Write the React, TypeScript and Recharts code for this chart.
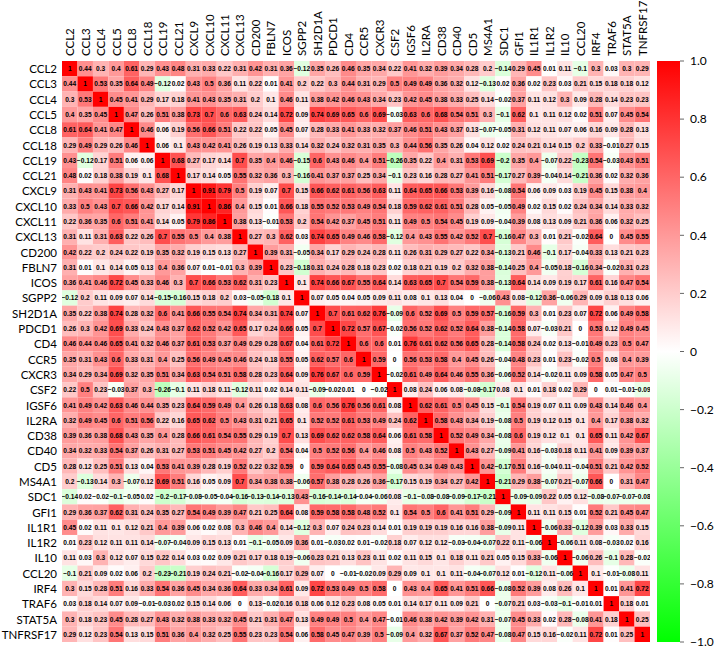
import { ScatterChart, Scatter, XAxis, YAxis, BarChart, Bar } from 'recharts'

const genes = [
  'CCL2', 'CCL3', 'CCL4', 'CCL5', 'CCL8', 'CCL18', 'CCL19', 'CCL21', 'CXCL9', 'CXCL10',
  'CXCL11', 'CXCL13', 'CD200', 'FBLN7', 'ICOS', 'SGPP2', 'SH2D1A', 'PDCD1', 'CD4', 'CCR5',
  'CXCR3', 'CSF2', 'IGSF6', 'IL2RA', 'CD38', 'CD40', 'CD5', 'MS4A1', 'SDC1', 'GFI1',
  'IL1R1', 'IL1R2', 'IL10', 'CCL20', 'IRF4', 'TRAF6', 'STAT5A', 'TNFRSF17',
]

// lower triangle of the correlation matrix, one row per gene
const rCCL2: number[] = []
const rCCL3 = [0.44]
const rCCL4 = [0.3, 0.53]
const rCCL5 = [0.4, 0.35, 0.45]
const rCCL8 = [0.61, 0.64, 0.41, 0.47]
const rCCL18 = [0.29, 0.49, 0.29, 0.26, 0.46]
const rCCL19 = [0.43, -0.12, 0.17, 0.51, 0.06, 0.06]
const rCCL21 = [0.48, 0.02, 0.18, 0.38, 0.19, 0.1, 0.68]
const rCXCL9 = [0.31, 0.43, 0.41, 0.73, 0.56, 0.43, 0.27, 0.17]
const rCXCL10 = [0.33, 0.5, 0.43, 0.7, 0.66, 0.42, 0.17, 0.14, 0.91]
const rCXCL11 = [0.22, 0.36, 0.35, 0.6, 0.51, 0.41, 0.14, 0.05, 0.79, 0.86]
const rCXCL13 = [0.31, 0.11, 0.31, 0.63, 0.22, 0.26, 0.7, 0.55, 0.5, 0.4, 0.38]
const rCD200 = [0.42, 0.22, 0.2, 0.24, 0.22, 0.19, 0.35, 0.32, 0.19, 0.15, 0.13, 0.27]
const rFBLN7 = [0.31, 0.01, 0.1, 0.14, 0.05, 0.13, 0.4, 0.36, 0.07, 0.01, -0.01, 0.3, 0.39]
const rICOS = [0.36, 0.41, 0.46, 0.72, 0.45, 0.33, 0.46, 0.3, 0.7, 0.66, 0.53, 0.62, 0.31, 0.23]
const rSGPP2 = [-0.12, 0.2, 0.11, 0.09, 0.07, 0.14, -0.15, -0.16, 0.15, 0.18, 0.2, 0.03, -0.05, -0.18, 0.1]
const rSH2D1A = [0.35, 0.22, 0.38, 0.74, 0.28, 0.32, 0.6, 0.41, 0.66, 0.55, 0.54, 0.74, 0.34, 0.31, 0.74, 0.07]
const rPDCD1 = [0.26, 0.3, 0.42, 0.69, 0.33, 0.24, 0.43, 0.37, 0.62, 0.52, 0.42, 0.65, 0.17, 0.24, 0.66, 0.05, 0.7]
const rCD4 = [0.46, 0.44, 0.46, 0.65, 0.41, 0.32, 0.46, 0.37, 0.61, 0.53, 0.37, 0.49, 0.29, 0.28, 0.67, 0.04, 0.61, 0.72]
const rCCR5 = [0.35, 0.31, 0.43, 0.6, 0.33, 0.31, 0.4, 0.25, 0.56, 0.49, 0.45, 0.46, 0.24, 0.18, 0.55, 0.05, 0.62, 0.57, 0.6]
const rCXCR3 = [0.34, 0.29, 0.34, 0.69, 0.32, 0.35, 0.51, 0.34, 0.63, 0.54, 0.51, 0.58, 0.28, 0.23, 0.64, 0.09, 0.76, 0.67, 0.6, 0.59]
const rCSF2 = [0.22, 0.5, 0.23, -0.03, 0.37, 0.3, -0.26, -0.1, 0.11, 0.18, 0.11, -0.12, 0.11, 0.02, 0.14, 0.11, -0.09, -0.02, 0.01, 0, -0.02]
const rIGSF6 = [0.41, 0.49, 0.42, 0.63, 0.46, 0.44, 0.35, 0.23, 0.64, 0.59, 0.49, 0.4, 0.26, 0.18, 0.63, 0.08, 0.6, 0.56, 0.76, 0.56, 0.61, 0.08]
const rIL2RA = [0.32, 0.49, 0.45, 0.6, 0.51, 0.56, 0.22, 0.16, 0.65, 0.62, 0.5, 0.43, 0.31, 0.21, 0.65, 0.1, 0.52, 0.52, 0.61, 0.53, 0.49, 0.24, 0.62]
const rCD38 = [0.39, 0.36, 0.38, 0.68, 0.43, 0.35, 0.4, 0.28, 0.66, 0.61, 0.54, 0.55, 0.29, 0.19, 0.7, 0.13, 0.69, 0.62, 0.62, 0.58, 0.64, 0.06, 0.61, 0.58]
const rCD40 = [0.34, 0.32, 0.33, 0.54, 0.37, 0.26, 0.31, 0.27, 0.53, 0.51, 0.45, 0.42, 0.27, 0.2, 0.54, 0.04, 0.5, 0.52, 0.56, 0.4, 0.46, 0.08, 0.5, 0.43, 0.52]
const rCD5 = [0.28, 0.12, 0.25, 0.51, 0.13, 0.04, 0.53, 0.41, 0.39, 0.28, 0.19, 0.52, 0.22, 0.32, 0.59, 0, 0.59, 0.64, 0.65, 0.45, 0.55, -0.08, 0.45, 0.34, 0.49, 0.43]
const rMS4A1 = [0.2, -0.13, 0.14, 0.3, -0.07, 0.12, 0.69, 0.51, 0.16, 0.05, 0.09, 0.7, 0.34, 0.38, 0.38, -0.06, 0.57, 0.38, 0.28, 0.26, 0.36, -0.17, 0.15, 0.19, 0.34, 0.27, 0.42]
const rSDC1 = [-0.14, 0.02, -0.02, -0.1, -0.05, 0.02, -0.2, -0.17, -0.08, -0.05, -0.04, -0.16, -0.13, -0.14, -0.13, 0.43, -0.16, -0.14, -0.14, -0.04, -0.06, 0.08, -0.1, -0.08, -0.08, -0.09, -0.17, -0.21]
const rGFI1 = [0.29, 0.36, 0.37, 0.62, 0.31, 0.24, 0.35, 0.27, 0.54, 0.49, 0.39, 0.47, 0.21, 0.25, 0.64, 0.08, 0.59, 0.58, 0.58, 0.48, 0.52, 0.1, 0.54, 0.5, 0.6, 0.41, 0.51, 0.29, -0.09]
const rIL1R1 = [0.45, 0.02, 0.11, 0.1, 0.12, 0.21, 0.4, 0.39, 0.06, 0.02, 0.08, 0.3, 0.46, 0.4, 0.14, -0.12, 0.3, 0.07, 0.24, 0.23, 0.14, 0.01, 0.19, 0.19, 0.19, 0.16, 0.16, 0.38, -0.09, 0.11]
const rIL1R2 = [0.01, 0.23, 0.12, 0.11, 0.11, 0.14, -0.07, -0.04, 0.09, 0.15, 0.13, 0.01, -0.1, -0.05, 0.09, 0.36, 0.01, -0.03, 0.02, 0.01, -0.02, 0.18, 0.07, 0.12, 0.12, -0.03, -0.04, -0.07, 0.22, 0.11, -0.06]
const rIL10 = [0.11, 0.03, 0.3, 0.12, 0.07, 0.15, 0.22, 0.14, 0.03, 0.02, 0.09, 0.21, 0.17, 0.18, 0.19, -0.06, 0.23, 0.21, 0.13, 0.23, 0.11, 0.02, 0.11, 0.15, 0.1, 0.18, 0.11, 0.21, 0.05, 0.15, 0.33, -0.06]
const rCCL20 = [-0.1, 0.21, 0.09, 0.02, 0.06, 0.2, -0.23, -0.21, 0.19, 0.24, 0.21, -0.02, -0.04, -0.16, 0.17, 0.29, 0.07, 0, -0.01, -0.02, 0.09, 0.29, 0.09, 0.1, 0.1, 0.11, -0.04, -0.07, 0.12, 0.01, -0.12, 0.11, -0.06]
const rIRF4 = [0.3, 0.15, 0.28, 0.51, 0.16, 0.33, 0.54, 0.36, 0.45, 0.34, 0.36, 0.64, 0.33, 0.34, 0.61, 0.09, 0.72, 0.53, 0.49, 0.5, 0.58, 0, 0.43, 0.4, 0.65, 0.41, 0.51, 0.66, -0.08, 0.52, 0.39, 0.08, 0.26, 0.1]
const rTRAF6 = [0.03, 0.18, 0.14, 0.07, 0.09, -0.01, -0.03, 0.02, 0.15, 0.14, 0.06, 0, 0.13, -0.02, 0.16, 0.18, 0.06, 0.12, 0.23, 0.08, 0.05, 0.01, 0.14, 0.17, 0.11, 0.09, 0.21, 0, -0.07, 0.21, 0.03, -0.03, -0.1, -0.01, 0.01]
const rSTAT5A = [0.3, 0.18, 0.23, 0.45, 0.28, 0.27, 0.43, 0.32, 0.38, 0.33, 0.32, 0.45, 0.21, 0.31, 0.47, 0.13, 0.49, 0.49, 0.5, 0.4, 0.47, -0.01, 0.46, 0.38, 0.42, 0.39, 0.42, 0.31, -0.07, 0.45, 0.33, 0.02, 0.28, -0.08, 0.41, 0.18]
const rTNFRSF17 = [0.29, 0.12, 0.23, 0.54, 0.13, 0.15, 0.51, 0.36, 0.4, 0.32, 0.25, 0.55, 0.23, 0.23, 0.54, 0.06, 0.58, 0.45, 0.47, 0.39, 0.5, -0.09, 0.4, 0.32, 0.67, 0.37, 0.52, 0.47, -0.08, 0.47, 0.15, 0.16, -0.02, 0.11, 0.72, 0.01, 0.25]

const lowerRows = [
  rCCL2, rCCL3, rCCL4, rCCL5, rCCL8, rCCL18, rCCL19, rCCL21, rCXCL9, rCXCL10,
  rCXCL11, rCXCL13, rCD200, rFBLN7, rICOS, rSGPP2, rSH2D1A, rPDCD1, rCD4, rCCR5,
  rCXCR3, rCSF2, rIGSF6, rIL2RA, rCD38, rCD40, rCD5, rMS4A1, rSDC1, rGFI1,
  rIL1R1, rIL1R2, rIL10, rCCL20, rIRF4, rTRAF6, rSTAT5A, rTNFRSF17,
]

const cbTicks = [-1, -0.8, -0.6, -0.4, -0.2, 0, 0.2, 0.4, 0.6, 0.8, 1]
const cbLabels = ['\u22121.0', '\u22120.8', '\u22120.6', '\u22120.4', '\u22120.2', '0', '0.2', '0.4', '0.6', '0.8', '1.0']

const N = genes.length
const idx = genes.map((_, i) => i)

function corr(r: number, c: number) {
  if (r === c) return 1
  return r > c ? lowerRows[r][c] : lowerRows[c][r]
}

const cells: { x: number; y: number; v: number }[] = []
for (let r = 0; r < N; r++) {
  for (let c = 0; c < N; c++) cells.push({ x: c, y: r, v: corr(r, c) })
}

// green -> white -> red
function cellColor(v: number) {
  const t = Math.round(255 * (1 - Math.abs(v)))
  return v >= 0 ? `rgb(255,${t},${t})` : `rgb(${t},255,${t})`
}

const fmt = (v: number) => String(v).replace('-', '\u2212')

const W = 652
const H = 652
const M = { top: 8, right: 2, bottom: 10, left: 7 }
const X_AXIS_H = 53
const Y_AXIS_W = 55
const CW = (W - M.left - M.right - Y_AXIS_W) / N
const CH = (H - M.top - M.bottom - X_AXIS_H) / N

const LABEL_FONT = 'Lato, "Noto Sans", sans-serif'
const LABEL_SIZE = 11.5

const renderRect = (p: any) => (
  <rect x={p.cx - CW / 2} y={p.cy - CH / 2} width={CW} height={CH} fill={cellColor(p.payload.v)} />
)

const renderText = (p: any) => (
  <text
    x={p.cx}
    y={p.cy}
    textAnchor="middle"
    dominantBaseline="central"
    fontSize={6.6}
    fontWeight="bold"
    fontFamily='"Liberation Sans", Arial, sans-serif'
    fill="#000"
  >
    {fmt(p.payload.v)}
  </text>
)

const TopTick = (p: any) => {
  const y = p.y + 3
  return (
    <text
      x={p.x}
      y={y}
      transform={`rotate(-90, ${p.x}, ${y})`}
      textAnchor="start"
      dominantBaseline="central"
      fontSize={LABEL_SIZE}
      fontFamily={LABEL_FONT}
      fill="#000"
    >
      {genes[p.payload.value]}
    </text>
  )
}

const LeftTick = (p: any) => (
  <text
    x={p.x + 3}
    y={p.y}
    textAnchor="end"
    dominantBaseline="central"
    fontSize={LABEL_SIZE}
    fontFamily={LABEL_FONT}
    fill="#000"
  >
    {genes[p.payload.value]}
  </text>
)

const cbData = [{ name: 'scale', range: [-1, 1] }]

export default function App() {
  return (
    <div style={{ position: 'absolute', left: 0, top: 0, width: 715, height: 652, background: '#fff' }}>
      <svg width={0} height={0} style={{ position: 'absolute' }}>
        <defs>
          <linearGradient id="cbGrad" x1="0" y1="0" x2="0" y2="1">
            <stop offset="0" stopColor="#ff0000" />
            <stop offset="0.5" stopColor="#ffffff" />
            <stop offset="1" stopColor="#00ff00" />
          </linearGradient>
        </defs>
      </svg>
      <div style={{ position: 'absolute', left: 0, top: 0 }}>
        <ScatterChart width={W} height={H} margin={M}>
          <XAxis
            type="number"
            dataKey="x"
            orientation="top"
            domain={[-0.5, N - 0.5]}
            ticks={idx}
            interval={0}
            height={X_AXIS_H}
            tick={<TopTick />}
            axisLine={false}
            tickLine={false}
            allowDataOverflow
          />
          <YAxis
            type="number"
            dataKey="y"
            domain={[-0.5, N - 0.5]}
            reversed
            ticks={idx}
            interval={0}
            width={Y_AXIS_W}
            tick={<LeftTick />}
            axisLine={false}
            tickLine={false}
            allowDataOverflow
          />
          <Scatter data={cells} shape={renderRect} isAnimationActive={false} />
          <Scatter data={cells} shape={renderText} isAnimationActive={false} />
        </ScatterChart>
      </div>
      <div style={{ position: 'absolute', left: 650, top: 0 }}>
        <BarChart
          width={65}
          height={H}
          data={cbData}
          margin={{ top: M.top + X_AXIS_H, right: 0, bottom: M.bottom, left: 7 }}
          barCategoryGap={0}
        >
          <XAxis dataKey="name" hide />
          <YAxis
            orientation="right"
            type="number"
            domain={[-1, 1]}
            ticks={cbTicks}
            interval={0}
            width={35}
            axisLine={false}
            tickSize={4}
            tickMargin={6}
            tickLine={{ stroke: '#666' }}
            tick={{ fontSize: 12, fontFamily: LABEL_FONT, fill: '#000' }}
            tickFormatter={(v: number, i: number) => cbLabels[i]}
          />
          <Bar dataKey="range" fill="url(#cbGrad)" isAnimationActive={false} />
        </BarChart>
      </div>
    </div>
  )
}
